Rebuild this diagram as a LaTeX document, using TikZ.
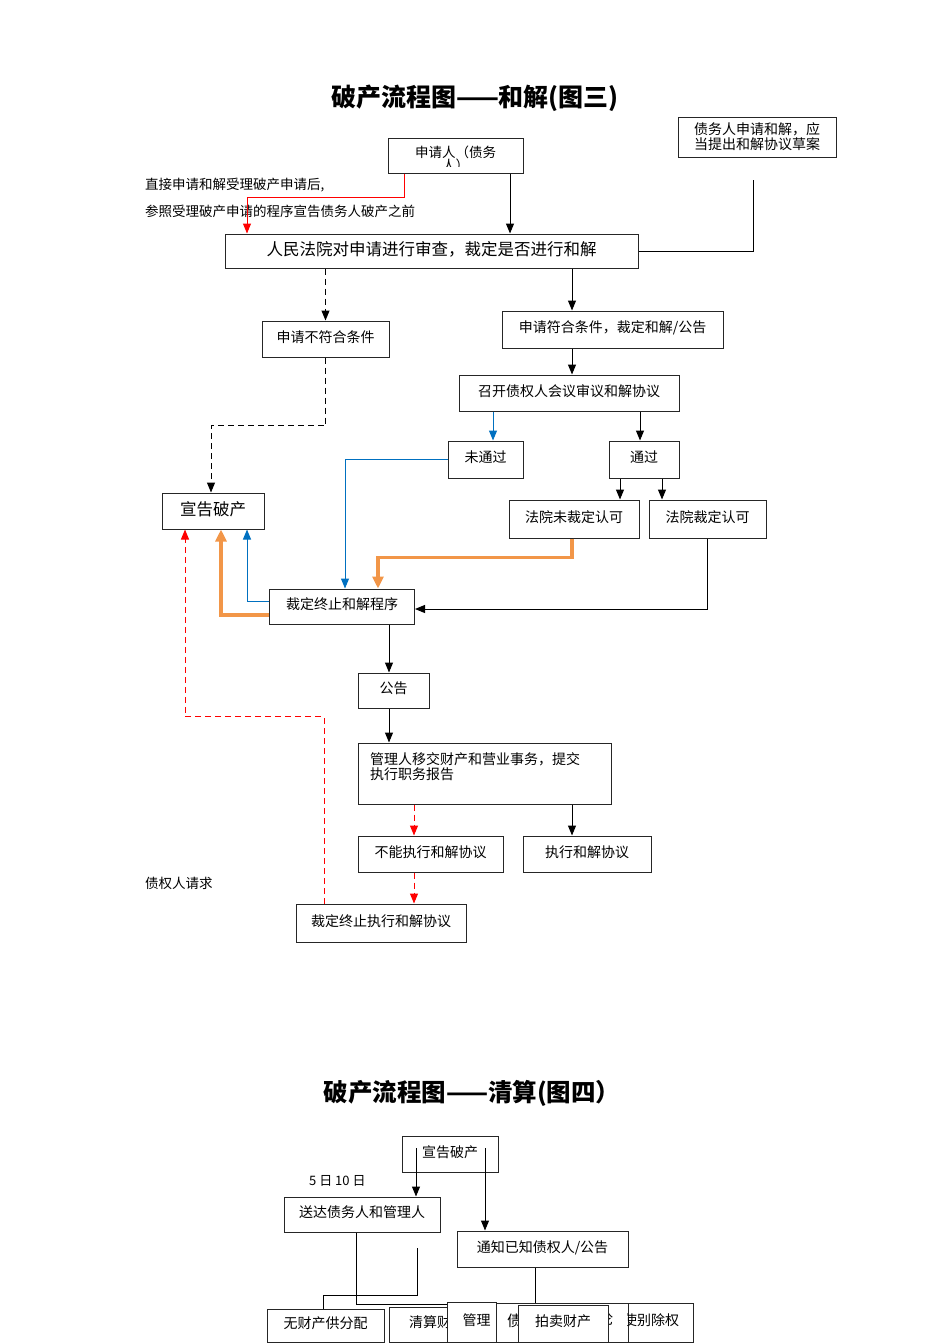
\documentclass[tikz,border=0pt]{standalone}
\usepackage{fontspec}
\newfontfamily\cjk{Noto Sans CJK SC}
\usetikzlibrary{arrows.meta, positioning}
\definecolor{flowblue}{RGB}{0,112,192}
\definecolor{floworange}{RGB}{242,150,72}

\begin{document}
\begin{tikzpicture}[x=1pt, y=-1pt,
    box/.style={rectangle, draw=black!85, fill=white, line width=1pt, inner sep=2pt, align=center, text depth=0.55em, font=\cjk\fontsize{14}{15}\selectfont},
    bigbox/.style={box, font=\cjk\fontsize{16.5}{18}\selectfont},
    note/.style={anchor=west, inner sep=0pt, font=\cjk\fontsize{13.5}{15}\selectfont},
    heading/.style={font=\cjk\bfseries\fontsize{25}{27}\selectfont},
    arrow/.style={-{Triangle[length=10pt,width=8pt]}, line width=1pt},
    dasharrow/.style={arrow, dash pattern=on 6pt off 4pt},
    thickarrow/.style={-{Triangle[length=12pt,width=11pt]}, line width=3.5pt, floworange},
    conn/.style={line width=1pt}
]
\useasboundingbox (0,0) rectangle (950,1344);

% ---- settlement (chart 3)
\node[heading] (title1) at (475,98) {破产流程图——和解(图三)};

\node[box, minimum width=135pt, minimum height=35pt] (app) at (455.5,155.5) {};
\begin{scope}
    \clip (app.north west) rectangle ([yshift=7pt]app.south east);
    \node[font=\cjk\fontsize{13.5}{13}\selectfont, align=center, anchor=north] (apptext) at ([yshift=-5pt]app.north) {申请人（债务\\人）};
\end{scope}
\node[box, minimum width=158pt, minimum height=40pt, text depth=1.7pt] (draft) at (757,137) {债务人申请和解，应\\当提出和解协议草案};
\coordinate (drafttail) at (753,180);

\node[note] (note1) at (145,185) {直接申请和解受理破产申请后,};
\node[note] (note2) at (145,211) {参照受理破产申请的程序宣告债务人破产之前};

\node[bigbox, minimum width=413pt, minimum height=34pt] (court) at (431.5,251) {人民法院对申请进行审查，裁定是否进行和解};
\node[box, minimum width=127pt, minimum height=36pt] (reject) at (325.5,339) {申请不符合条件};
\node[box, minimum width=221pt, minimum height=37pt] (accept) at (612.5,329.5) {申请符合条件，裁定和解/公告};
\node[box, minimum width=220pt, minimum height=36pt] (meeting) at (569,393) {召开债权人会议审议和解协议};
\node[box, minimum width=75pt, minimum height=37pt] (fail) at (485.5,459.5) {未通过};
\node[box, minimum width=70pt, minimum height=37pt] (pass) at (644,459.5) {通过};
\node[bigbox, minimum width=102pt, minimum height=36pt] (bankrupt) at (213,511) {宣告破产};
\node[box, minimum width=130pt, minimum height=38pt] (noapprove) at (574,519) {法院未裁定认可};
\node[box, minimum width=117pt, minimum height=38pt] (approve) at (707.5,519) {法院裁定认可};
\node[box, minimum width=145pt, minimum height=35pt] (endproc) at (342,606.5) {裁定终止和解程序};
\node[box, minimum width=71pt, minimum height=35pt] (notice) at (393.5,690.5) {公告};
\node[box, minimum width=253pt, minimum height=61pt, text width=229pt, inner xsep=12pt, align=left, text depth=30pt] (handover) at (484.5,773.5) {管理人移交财产和营业事务，提交\\执行职务报告};
\node[box, minimum width=145pt, minimum height=36pt] (cannot) at (430.5,854) {不能执行和解协议};
\node[box, minimum width=128pt, minimum height=36pt] (execute) at (587,854) {执行和解协议};
\node[box, minimum width=170pt, minimum height=38pt] (terminate) at (381,923) {裁定终止执行和解协议};
\node[note] (creditor) at (145,883) {债权人请求};

\draw[arrow, red] ([xshift=-51.5pt]app.south) -- ++(0,24) -| ([xshift=-184.5pt]court.north);
\draw[arrow] ([xshift=54.5pt]app.south) -- ([xshift=78.5pt]court.north);
\draw[conn] (drafttail) |- (court.east);
\draw[dasharrow] (court.south -| reject.north) -- (reject.north);
\draw[dasharrow] (reject.south) -- ++(0,68) -| ([xshift=-2pt]bankrupt.north);
\draw[arrow] ([xshift=140.5pt]court.south) -- ([xshift=-40.5pt]accept.north);
\draw[arrow] ([xshift=-40.5pt]accept.south) -- ([xshift=3pt]meeting.north);
\draw[arrow, flowblue] ([xshift=-76pt]meeting.south) -- ([xshift=7.5pt]fail.north);
\draw[arrow] ([xshift=71pt]meeting.south) -- ([xshift=-4pt]pass.north);
\draw[arrow] ([xshift=-24pt]pass.south) -- ([xshift=46pt]noapprove.north);
\draw[arrow] ([xshift=18pt]pass.south) -- ([xshift=-45.5pt]approve.north);
\draw[arrow, flowblue] (fail.west) -| ([xshift=3pt]endproc.north);
\draw[thickarrow] ([xshift=-2pt]noapprove.south) -- ++(0,19) -| ([xshift=36pt]endproc.north);
\draw[arrow] (approve.south) |- ([yshift=-2.5pt]endproc.east);
\draw[arrow, flowblue] ([yshift=5.5pt]endproc.west) -| ([xshift=34pt]bankrupt.south);
\draw[thickarrow] ([yshift=-8.5pt]endproc.west) -| ([xshift=8pt]bankrupt.south);
\draw[arrow] ([xshift=47pt]endproc.south) -- ([xshift=-4.5pt]notice.north);
\draw[arrow] ([xshift=-4.5pt]notice.south) -- ([xshift=-95.5pt]handover.north);
\draw[dasharrow, red] ([xshift=-70.5pt]handover.south) -- ([xshift=-16.5pt]cannot.north);
\draw[arrow] ([xshift=87.5pt]handover.south) -- ([xshift=-15pt]execute.north);
\draw[dasharrow, red] ([xshift=-16.5pt]cannot.south) -- ([xshift=33pt]terminate.north);
\draw[dasharrow, red] ([xshift=-57pt]terminate.north) -- ++(0,-187) -| ([xshift=-28pt]bankrupt.south);

% ---- liquidation (chart 4)
\node[heading, font=\cjk\bfseries\fontsize{24.5}{27}\selectfont] (title2) at (472,1093) {破产流程图——清算(图四）};

\node[box, minimum width=96pt, minimum height=36pt] (declare) at (450,1154) {宣告破产};
\coordinate (d1) at (416,1148);
\coordinate (d2) at (485,1148);
\node[note, font=\cjk\fontsize{13}{15}\selectfont] (days) at (309,1181) {5 日 10 日};
\node[box, minimum width=156pt, minimum height=35pt] (send) at (362,1214.5) {送达债务人和管理人};
\node[box, minimum width=171pt, minimum height=36pt] (notify) at (542.5,1249) {通知已知债权人/公告};
\coordinate (sendtail) at (417,1248);
\coordinate (sendend) at (447,1304);

\draw[arrow] (d1) -- (d1 |- send.north);
\draw[arrow] (d2) -- (d2 |- notify.north);

\node[box, minimum width=117pt, minimum height=33pt] (wucai) at (325.5,1325.5) {无财产供分配};
\node[box, minimum height=35pt, text width=131pt, inner xsep=20pt, align=left] (qingsuan) at (474.5,1324.5) {清算财};
\node[box, minimum height=40pt, text width=38pt, inner xsep=5.5pt, align=right] (guanli) at (471.5,1322) {管理};
\node[box, minimum height=39pt, text width=110pt, inner xsep=11pt, align=left, font=\cjk\fontsize{15}{16}\selectfont] (zhai) at (562,1322.5) {债};
\node[note, font=\cjk\fontsize{15}{16}\selectfont] (zhaitail) at (598,1319) {论};
\node[box, minimum width=90pt, minimum height=37pt] (paimai) at (563,1323.5) {拍卖财产};
\node[box, minimum width=65pt, minimum height=39pt] (xingshi) at (660.5,1322.5) {};
\begin{scope}
    \clip (xingshi.north west) rectangle (xingshi.south east);
    \node[note, font=\cjk\fontsize{14}{15}\selectfont] (xingshitext) at (623,1320) {使别除权};
\end{scope}

\draw[conn] ([xshift=-6pt]send.south) |- (sendend);
\draw[conn] (sendtail) -- ++(0,47) -| ([xshift=-2.5pt]wucai.north);
\draw[conn] ([xshift=-7.5pt]notify.south) -- ([xshift=-27pt]zhai.north);
\end{tikzpicture}
\end{document}
